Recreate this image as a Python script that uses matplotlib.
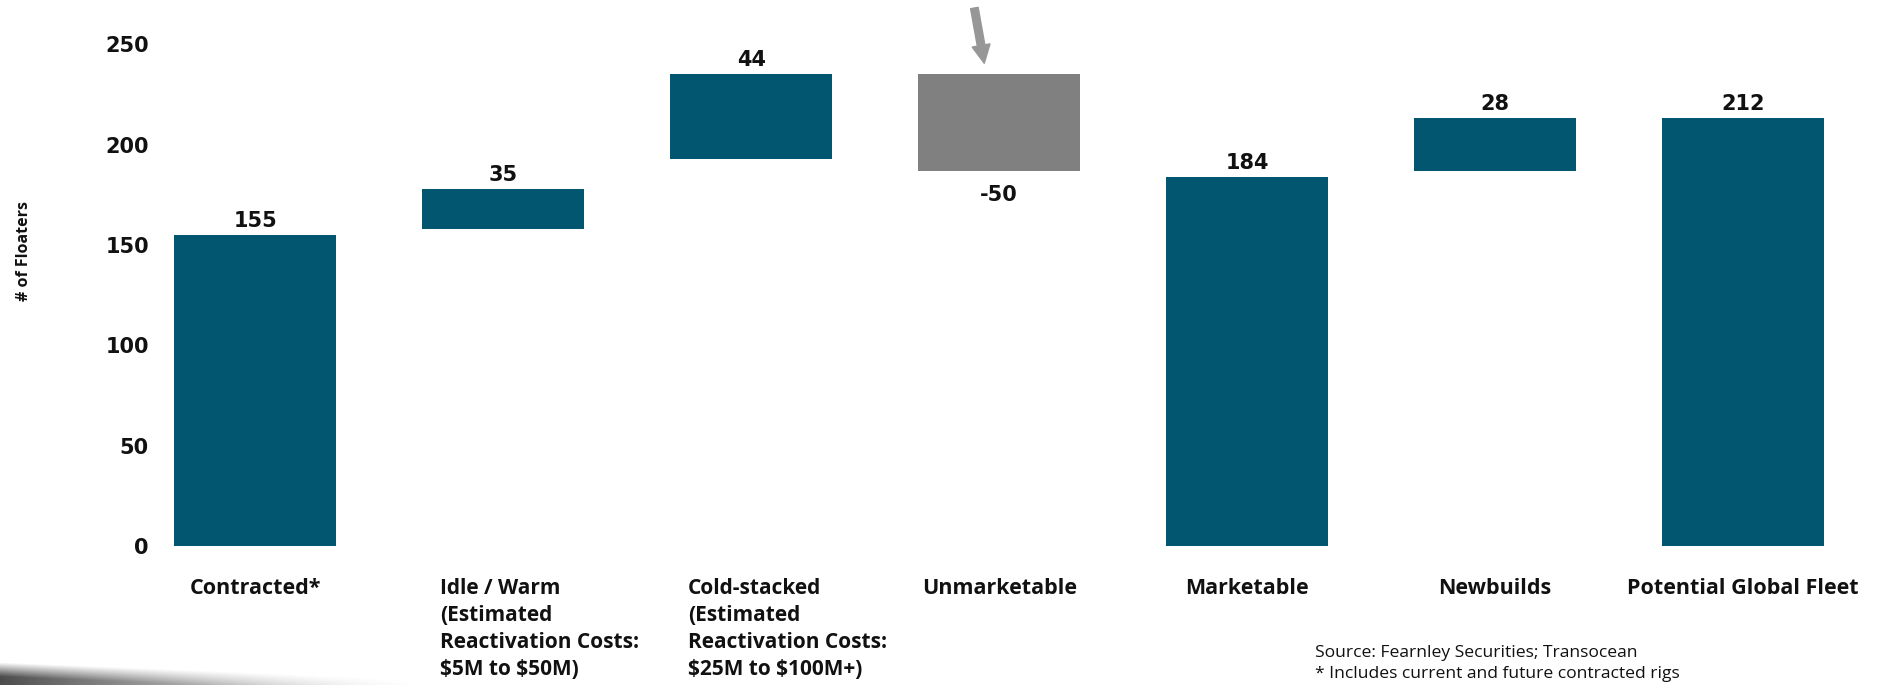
import numpy as np
import matplotlib
matplotlib.use("Agg")
import matplotlib.pyplot as plt
from matplotlib import font_manager
from matplotlib.transforms import blended_transform_factory

# categories and values
categories = ["Contracted*", "Idle / Warm", "Cold-stacked", "Unmarketable",
              "Marketable", "Newbuilds", "Potential Global Fleet"]
sub_labels = ["", "(Estimated\nReactivation Costs:\n\\$5M to \\$50M)",
              "(Estimated\nReactivation Costs:\n\\$25M to \\$100M+)", "", "", "", ""]
bar_bottom = [0, 158, 193, 187, 0, 187, 0]
bar_top = [155, 178, 235, 235, 184, 213, 213]
value_labels = ["155", "35", "44", "-50", "184", "28", "212"]
yticks = [0, 50, 100, 150, 200, 250]

TEAL = "#03566f"
GREY = "#808080"
ARROW = "#979797"

installed = {f.name for f in font_manager.fontManager.ttflist}
narrow = "Liberation Sans Narrow" if "Liberation Sans Narrow" in installed else "Open Sans"

fig = plt.figure(figsize=(18.79, 6.85), dpi=100)
ax = fig.add_axes([0.0829, 0.2025, 1 - 0.0829, 1 - 0.2025])
ax.set_xlim(-0.401, 6.548)
ax.set_ylim(0, 272)

x = np.arange(len(categories))
heights = np.array(bar_top) - np.array(bar_bottom)
colors = [GREY if v.startswith("-") else TEAL for v in value_labels]
ax.bar(x, heights, bottom=bar_bottom, width=0.652, color=colors, linewidth=0)

# value labels: above the bar, or below for the negative step
for i, lab in enumerate(value_labels):
    if lab.startswith("-"):
        ax.annotate(lab, (x[i], bar_bottom[i]), xytext=(0, -10), textcoords="offset points",
                    ha="center", va="top", fontsize=15, fontweight="bold",
                    family="DejaVu Sans", color="#111111")
    else:
        ax.annotate(lab, (x[i], bar_top[i]), xytext=(0, 3), textcoords="offset points",
                    ha="center", va="bottom", fontsize=15, fontweight="bold",
                    family="DejaVu Sans", color="#111111")

# category labels under the axis
trans = blended_transform_factory(ax.transData, ax.transAxes)
for i, (cat, sub) in enumerate(zip(categories, sub_labels)):
    if sub:
        ax.text(x[i] - 0.255, -0.058, cat + "\n" + sub, transform=trans, ha="left", va="top",
                fontsize=15, fontweight="bold", family=narrow, linespacing=1.38,
                color="#111111", clip_on=False)
    else:
        ax.text(x[i], -0.058, cat, transform=trans, ha="center", va="top",
                fontsize=15.5, fontweight="bold", family=narrow, color="#111111", clip_on=False)

ax.set_yticks(yticks)
ax.set_yticklabels([str(t) for t in yticks], fontsize=15, fontweight="bold",
                   family="DejaVu Sans", color="#111111")
ax.tick_params(axis="y", length=0, pad=5)
ax.set_xticks([])
for s in ax.spines.values():
    s.set_visible(False)

fig.text(0.0128, 0.633, "# of Floaters", rotation=90, ha="center", va="center",
         fontsize=11.5, fontweight="bold", family="Open Sans", color="#111111")

# grey arrow pointing at the unmarketable bar
ax.annotate("", xy=(x[3] - 0.06, 240.5), xytext=(x[3] - 0.1, 268),
            arrowprops=dict(arrowstyle="simple,head_length=1.3,head_width=1.3,tail_width=0.55",
                            mutation_scale=10, color=ARROW, shrinkA=0, shrinkB=0),
            annotation_clip=False)

fig.text(0.6998, 0.047, "Source: Fearnley Securities; Transocean",
         ha="left", va="center", fontsize=12.6, family="Open Sans", color="#111111")
fig.text(0.6998, 0.016, "* Includes current and future contracted rigs",
         ha="left", va="center", fontsize=12.6, family="Open Sans", color="#111111")

# grey swoosh in the bottom-left corner
sw = fig.add_axes([0, 0, 0.23, 0.034])
gx = np.linspace(0, 1, 400)
gy = np.linspace(0, 1, 60)[:, None]
edge = 0.95 - 0.75 * gx
fade_x = np.clip(1 - gx, 0, 1) ** 1.3
fade_y = np.clip((edge - gy) / 0.6, 0, 1)
alpha = fade_x * fade_y * 0.9
img = np.zeros((60, 400, 4))
img[..., :3] = 0.22
img[..., 3] = alpha
sw.imshow(img, aspect="auto", origin="lower", extent=(0, 1, 0, 1))
sw.axis("off")

fig.savefig("out.png", dpi=100)
